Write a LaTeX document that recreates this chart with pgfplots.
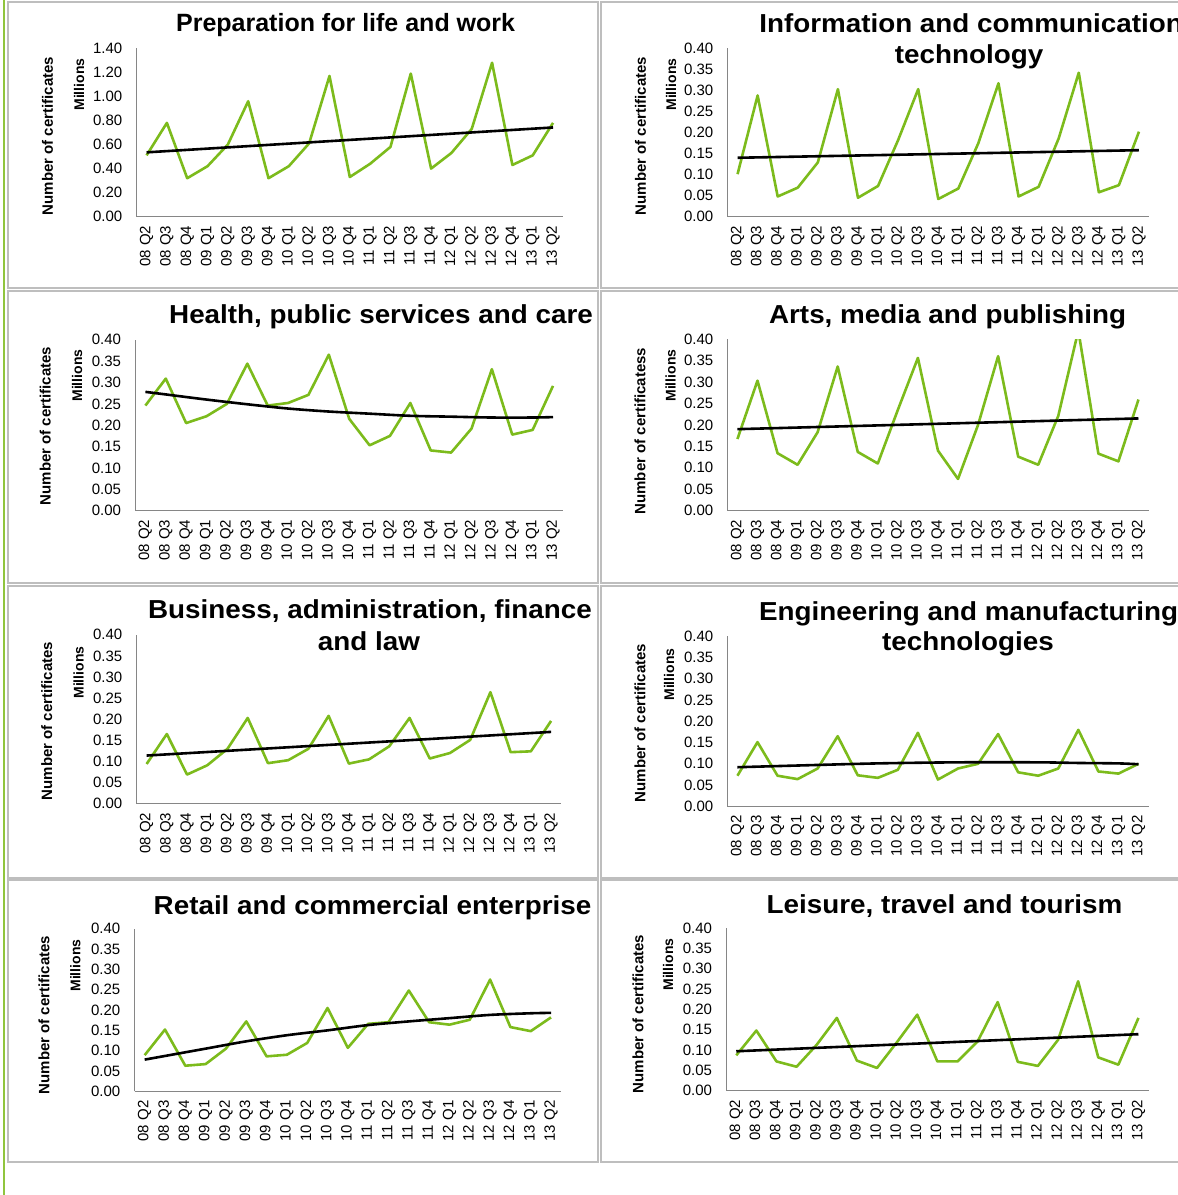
\documentclass[border=0pt]{standalone}
\usepackage{fontspec}
\setmainfont{Liberation Sans}
\newfontfamily\titlefont[FakeStretch=1.07]{Liberation Sans}
\usepackage{pgfplots}
\usepackage{pgfplotstable}
\pgfplotsset{compat=1.18}
\definecolor{lgreen}{RGB}{124,187,28}
\definecolor{axgray}{RGB}{134,134,134}
\definecolor{boxgray}{RGB}{190,190,190}

\pgfplotstableread{
x  prep  ict   hlth  arts  bus   eng   ret   leis
0  0.51  0.101 0.246 0.167 0.094 0.072 0.089 0.087
1  0.78  0.288 0.309 0.303 0.165 0.151 0.152 0.148
2  0.32  0.048 0.205 0.134 0.069 0.072 0.063 0.072
3  0.42  0.069 0.221 0.107 0.091 0.064 0.067 0.059
4  0.60  0.129 0.250 0.183 0.130 0.089 0.105 0.113
5  0.96  0.303 0.344 0.336 0.203 0.165 0.172 0.179
6  0.32  0.045 0.246 0.137 0.096 0.073 0.086 0.074
7  0.42  0.073 0.252 0.110 0.103 0.067 0.090 0.056
8  0.61  0.182 0.271 0.235 0.130 0.086 0.119 0.120
9  1.17  0.303 0.365 0.356 0.208 0.173 0.205 0.187
10 0.33  0.042 0.215 0.140 0.095 0.063 0.107 0.072
11 0.44  0.067 0.153 0.074 0.105 0.089 0.166 0.072
12 0.58  0.175 0.175 0.200 0.136 0.100 0.170 0.121
13 1.19  0.317 0.252 0.360 0.203 0.170 0.248 0.218
14 0.40  0.048 0.141 0.126 0.107 0.080 0.170 0.071
15 0.53  0.071 0.136 0.107 0.120 0.072 0.164 0.061
16 0.73  0.186 0.192 0.221 0.151 0.089 0.176 0.125
17 1.28  0.342 0.331 0.420 0.264 0.180 0.275 0.269
18 0.43  0.058 0.178 0.133 0.122 0.082 0.158 0.082
19 0.51  0.075 0.189 0.115 0.124 0.077 0.148 0.064
20 0.78  0.202 0.292 0.259 0.196 0.100 0.182 0.179
}\data

\pgfplotsset{
  panel/.style={
    scale only axis, anchor=south west,
    xmin=-0.5, xmax=20.5, ymin=0, ymax=0.4,
    axis lines*=left,
    axis line style={draw=axgray, line width=1bp, -},
    major tick length=0pt,
    xtick={0,...,20},
    xticklabels={08 Q2,08 Q3,08 Q4,09 Q1,09 Q2,09 Q3,09 Q4,10 Q1,10 Q2,10 Q3,10 Q4,11 Q1,11 Q2,11 Q3,11 Q4,12 Q1,12 Q2,12 Q3,12 Q4,13 Q1,13 Q2},
    xticklabel style={rotate=90, anchor=east, inner sep=0pt, font=\fontsize{15bp}{15bp}\selectfont},
    xticklabel shift=9bp,
    ytick={0,0.05,0.10,0.15,0.20,0.25,0.30,0.35,0.40},
    yticklabel style={anchor=east, inner sep=0pt, font=\fontsize{15bp}{15bp}\selectfont,
      /pgf/number format/.cd, fixed, fixed zerofill, precision=2},
    yticklabel shift=14bp,
    /pgf/number format/assume math mode=true,
    grid=none,
  },
  gline/.style={color=lgreen, line width=2.6bp, line join=round},
  tline/.style={color=black, line width=2.6bp, line join=round},
}

\newcommand{\ttl}[3]{\node[anchor=base, font=\titlefont\fontsize{26bp}{31bp}\selectfont\bfseries] at (#1bp,-#2bp) {#3};}
\newcommand{\ylab}[4]{%
  \node[rotate=90, anchor=center, font=\fontsize{15bp}{15bp}\selectfont\bfseries] at (#1bp,-#2bp) {#3};%
  \node[rotate=90, anchor=east, font=\fontsize{14bp}{14bp}\selectfont\bfseries] at (#4) {Millions};}

\begin{document}
\begin{tikzpicture}[x=1bp,y=1bp]
\path[use as bounding box] (0,0) rectangle (1178,-1195);
% left green bar
\draw[lgreen!85, line width=2.5bp] (4,2) -- (4,-1195);
% panel boxes
\foreach \ya/\yb in {2/288, 291/583, 586/878, 880/1162}{
  \draw[boxgray, line width=1.5bp] (8,-\ya) rectangle (598,-\yb);
  \draw[boxgray, line width=1.5bp] (1190,-\ya) -- (601,-\ya) -- (601,-\yb) -- (1190,-\yb);
}

% Panel 1
\begin{axis}[panel, at={(136.4bp,-216.7bp)}, width=426.8bp, height=168.4bp,
  ymax=1.4, ytick={0,0.2,0.4,0.6,0.8,1.0,1.2,1.4}]
\addplot[gline] table[x=x,y=prep]{\data};
\addplot[tline] coordinates {(0,0.535) (20,0.742)};
\end{axis}
\node[anchor=base, font=\fontsize{25bp}{30bp}\selectfont\bfseries] at (345.6bp,-31bp) {Preparation for life and work};
\ylab{47.5}{136}{Number of certificates}{79bp,-55bp}

% Panel 2
\begin{axis}[panel, at={(727.5bp,-216.7bp)}, width=421.5bp, height=168.4bp]
\addplot[gline] table[x=x,y=ict]{\data};
\addplot[tline] coordinates {(0,0.140) (20,0.158)};
\end{axis}
\ttl{971}{32}{Information and communication}
\ttl{969}{63}{technology}
\ylab{640.5}{136}{Number of certificates}{671bp,-55bp}

% Panel 3
\begin{axis}[panel, at={(135.2bp,-510.7bp)}, width=428bp, height=171bp]
\addplot[gline] table[x=x,y=hlth]{\data};
\addplot[tline, smooth] coordinates {(0,0.278)(1,0.272)(3,0.260)(5,0.249)(7,0.239)(9,0.232)(11,0.227)(13,0.222)(15,0.220)(17,0.218)(19,0.218)(20,0.219)};
\end{axis}
\ttl{381}{323}{Health, public services and care}
\ylab{45.2}{426}{Number of certificates}{77bp,-346bp}

% Panel 4
\begin{axis}[panel, at={(727.4bp,-510.7bp)}, width=421.1bp, height=171.7bp]
\addplot[gline] table[x=x,y=arts]{\data};
\addplot[tline] coordinates {(0,0.190) (20,0.215)};
\end{axis}
\ttl{947.6}{323}{Arts, media and publishing}
\ylab{640}{431}{Number of certificatess}{670.5bp,-346bp}

% Panel 5
\begin{axis}[panel, at={(136.5bp,-803.7bp)}, width=424.7bp, height=169bp]
\addplot[gline] table[x=x,y=bus]{\data};
\addplot[tline] coordinates {(0,0.114) (20,0.170)};
\end{axis}
\ttl{370}{618}{Business, administration, finance}
\ttl{369}{650}{and law}
\ylab{46.7}{721}{Number of certificates}{78.5bp,-643bp}

% Panel 6
\begin{axis}[panel, at={(727.4bp,-806.3bp)}, width=421.1bp, height=170bp]
\addplot[gline] table[x=x,y=eng]{\data};
\addplot[tline, smooth] coordinates {(0,0.092)(3,0.096)(7,0.101)(11,0.1035)(15,0.1035)(17,0.102)(19,0.101)(20,0.099)};
\end{axis}
\ttl{968.6}{620}{Engineering and manufacturing}
\ttl{968}{650}{technologies}
\ylab{640}{723}{Number of certificates}{669bp,-645bp}

% Panel 7
\begin{axis}[panel, at={(134.5bp,-1091.3bp)}, width=426.7bp, height=162.6bp]
\addplot[gline] table[x=x,y=ret]{\data};
\addplot[tline, smooth] coordinates {(0,0.078)(3,0.105)(5,0.123)(7,0.138)(9,0.150)(11,0.163)(13,0.172)(15,0.180)(17,0.188)(19,0.192)(20,0.193)};
\end{axis}
\ttl{372.5}{914}{Retail and commercial enterprise}
\ylab{44}{1015}{Number of certificates}{75.4bp,-936bp}

% Panel 8
\begin{axis}[panel, at={(726.2bp,-1090.7bp)}, width=422.3bp, height=162.7bp]
\addplot[gline] table[x=x,y=leis]{\data};
\addplot[tline] coordinates {(0,0.097) (20,0.139)};
\end{axis}
\ttl{944.5}{913}{Leisure, travel and tourism}
\ylab{638}{1014}{Number of certificates}{668bp,-935bp}
\end{tikzpicture}
\end{document}
